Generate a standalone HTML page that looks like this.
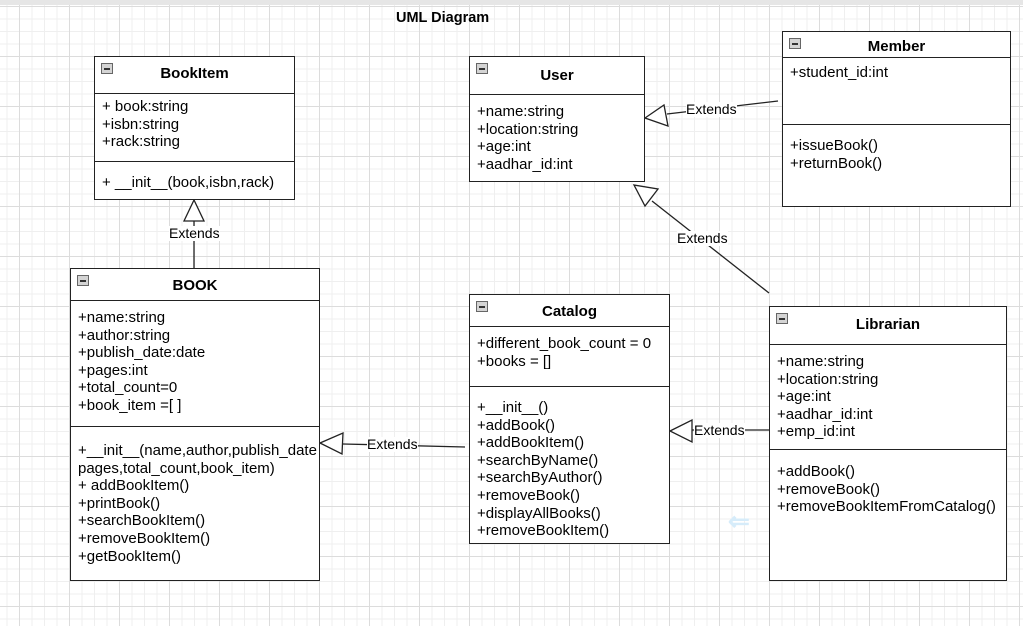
<!DOCTYPE html>
<html><head><meta charset="utf-8"><style>
*{margin:0;padding:0;box-sizing:border-box}
body{width:1023px;height:626px;overflow:hidden;position:relative;background:#fff;font-family:"Liberation Sans",Arial,sans-serif;font-size:14px;color:#000}
#grid{position:absolute;left:0;top:0;width:1023px;height:626px;
background-image:linear-gradient(#dcdcdc 1px,transparent 1px),linear-gradient(90deg,#dcdcdc 1px,transparent 1px),linear-gradient(#efefef 1px,transparent 1px),linear-gradient(90deg,#efefef 1px,transparent 1px);
background-size:50px 50px,50px 50px,12.5px 12.5px,12.5px 12.5px;background-position:19px 6px,19px 6px,19px 6px,19px 6px}
.top{position:absolute;left:0;top:0;width:1023px;height:5px;background:#e6e6e6}
.box{position:absolute;border:1px solid #222;background:#fff;font-size:15px}
.hd{position:absolute;left:0;right:0;top:0;border-bottom:1px solid #222;font-weight:bold;text-align:center}
.dv{position:absolute;left:0;right:0;border-top:1px solid #222}
.mn{position:absolute;left:6px;top:6px;width:12px;height:11px;border:1px solid #666;background:#d4d4d4}
.mn:after{content:"";position:absolute;left:2px;top:4px;width:6px;height:1.5px;background:#333}
.tx{position:absolute;left:7px;line-height:17.6px;white-space:nowrap}
.lbl{position:absolute;background:#fff;font-size:14px;line-height:15px;white-space:nowrap}
</style></head><body>
<div id="grid"></div><div class="top"></div>
<div style="position:absolute;left:396px;top:10px;font-weight:bold;font-size:14.5px">UML Diagram</div>

<svg style="position:absolute;left:0;top:0" width="1023" height="626">
<g stroke="#222" stroke-width="1.3" fill="#fff">
<line x1="194" y1="268" x2="194" y2="221"/>
<polygon points="194,200 184,221 204,221"/>
<line x1="465" y1="447" x2="343" y2="444"/>
<polygon points="320,443 343,433 342,454"/>
<line x1="769" y1="430" x2="692" y2="430"/>
<polygon points="670,431 692,420 692,442"/>
<line x1="778" y1="101" x2="667" y2="114"/>
<polygon points="645,118 664,105 668,126"/>
<line x1="769" y1="293" x2="652" y2="201"/>
<polygon points="634,185 658,189 645,206"/>
</g></svg>
<div class="lbl" style="left:169px;top:226px">Extends</div>
<div class="lbl" style="left:367px;top:437px">Extends</div>
<div class="lbl" style="left:694px;top:423px">Extends</div>
<div class="lbl" style="left:686px;top:102px">Extends</div>
<div class="lbl" style="left:677px;top:231px">Extends</div>

<div class="box" style="left:94px;top:56px;width:201px;height:144px">
<div class="hd" style="height:37px;line-height:34px">BookItem</div><div class="mn"></div>
<div class="tx" style="top:41px">+ book:string<br>+isbn:string<br>+rack:string</div>
<div class="dv" style="top:104px"></div>
<div class="tx" style="top:117px">+ __init__(book,isbn,rack)</div></div>

<div class="box" style="left:70px;top:268px;width:250px;height:313px">
<div class="hd" style="height:32px;line-height:34px">BOOK</div><div class="mn"></div>
<div class="tx" style="top:40px">+name:string<br>+author:string<br>+publish_date:date<br>+pages:int<br>+total_count=0<br>+book_item =[ ]</div>
<div class="dv" style="top:157px"></div>
<div class="tx" style="top:173px">+__init__(name,author,publish_date<br>pages,total_count,book_item)<br>+ addBookItem()<br>+printBook()<br>+searchBookItem()<br>+removeBookItem()<br>+getBookItem()</div></div>

<div class="box" style="left:469px;top:56px;width:176px;height:126px">
<div class="hd" style="height:38px;line-height:38px">User</div><div class="mn"></div>
<div class="tx" style="top:46px">+name:string<br>+location:string<br>+age:int<br>+aadhar_id:int</div></div>

<div class="box" style="left:782px;top:31px;width:229px;height:176px">
<div class="hd" style="height:26px;line-height:30px">Member</div><div class="mn"></div>
<div class="tx" style="top:32px">+student_id:int</div>
<div class="dv" style="top:92px"></div>
<div class="tx" style="top:105px">+issueBook()<br>+returnBook()</div></div>

<div class="box" style="left:469px;top:294px;width:201px;height:250px">
<div class="hd" style="height:32px;line-height:34px">Catalog</div><div class="mn"></div>
<div class="tx" style="top:40px">+different_book_count = 0<br>+books = []</div>
<div class="dv" style="top:91px"></div>
<div class="tx" style="top:104px">+__init__()<br>+addBook()<br>+addBookItem()<br>+searchByName()<br>+searchByAuthor()<br>+removeBook()<br>+displayAllBooks()<br>+removeBookItem()</div></div>

<div class="box" style="left:769px;top:306px;width:238px;height:275px">
<div class="hd" style="height:38px;line-height:36px">Librarian</div><div class="mn"></div>
<div class="tx" style="top:46px">+name:string<br>+location:string<br>+age:int<br>+aadhar_id:int<br>+emp_id:int</div>
<div class="dv" style="top:142px"></div>
<div class="tx" style="top:156px">+addBook()<br>+removeBook()<br>+removeBookItemFromCatalog()</div></div>

<div style="position:absolute;left:728px;top:506px;color:#d6ecfa;font-size:26px;font-weight:bold">⇐</div>
</body></html>
